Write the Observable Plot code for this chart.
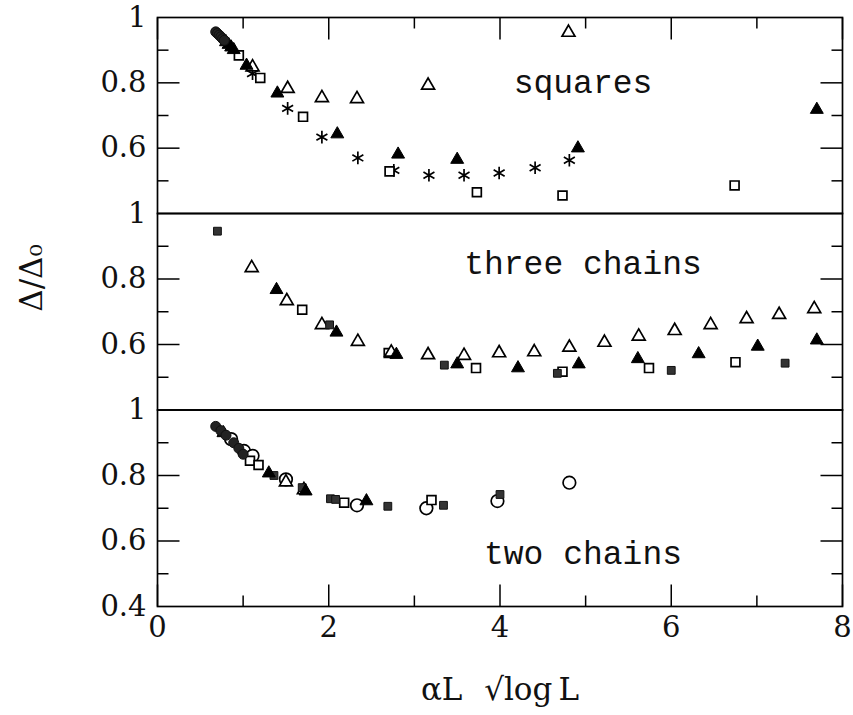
<!DOCTYPE html>
<html>
<head>
<meta charset="utf-8">
<script src="https://cdn.jsdelivr.net/npm/d3@7"></script>
<script src="https://cdn.jsdelivr.net/npm/@observablehq/plot@0.6"></script>
<style>
  body { margin: 0; background: #fff; }
  #chart { position: relative; width: 853px; height: 715px; background: #fff; }
  #chart svg { position: absolute; left: 0; top: 0; }
</style>
</head>
<body>
<div id="chart"></div>
<script>
// ---- squares ----
const sqFilledCircle = [[0.68,0.956],[0.70,0.951],[0.72,0.946],[0.74,0.941],[0.76,0.935],[0.78,0.930]];
const sqFilledTri = [[0.80,0.925],[0.83,0.917],[0.86,0.909],[0.89,0.901],[1.04,0.853],[1.40,0.768],[2.10,0.643],[2.81,0.581],[3.50,0.565],[4.91,0.600],[7.70,0.718]];
const sqOpenTri = [[1.11,0.848],[1.52,0.782],[1.92,0.754],[2.33,0.751],[3.16,0.792],[4.80,0.954]];
const sqOpenSq = [[0.95,0.884],[1.20,0.815],[1.70,0.696],[2.71,0.529],[3.73,0.465],[4.73,0.455],[6.74,0.486]];
const sqAsterisk = [[1.11,0.828],[1.52,0.722],[1.92,0.634],[2.34,0.570],[2.76,0.532],[3.17,0.517],[3.58,0.517],[3.99,0.524],[4.41,0.540],[4.81,0.563]];

// ---- three chains ----
const c3FilledSq = [[0.70,0.946],[2.01,0.660],[3.35,0.537],[4.67,0.512],[6.00,0.521],[7.33,0.543]];
const c3FilledTri = [[1.39,0.767],[2.09,0.637],[2.79,0.569],[3.50,0.540],[4.21,0.528],[4.92,0.540],[5.61,0.556],[6.32,0.571],[7.01,0.594],[7.70,0.613]];
const c3OpenTri = [[1.10,0.834],[1.51,0.733],[1.92,0.660],[2.34,0.609],[2.73,0.576],[3.16,0.568],[3.58,0.566],[3.99,0.574],[4.40,0.577],[4.81,0.591],[5.22,0.606],[5.62,0.625],[6.04,0.642],[6.46,0.660],[6.88,0.678],[7.26,0.691],[7.67,0.709]];
const c3OpenSq = [[1.69,0.706],[2.70,0.574],[3.72,0.528],[4.73,0.517],[5.74,0.528],[6.75,0.546]];

// ---- two chains ----
const c2FilledCircle = [[0.68,0.950],[0.74,0.937],[0.80,0.923],[0.89,0.900],[0.95,0.883],[1.00,0.865]];
const c2OpenCircle = [[0.86,0.911],[1.01,0.875],[1.11,0.860],[1.50,0.788],[2.33,0.709],[3.14,0.700],[3.97,0.722],[4.81,0.778]];
const c2FilledTri = [[0.77,0.930],[1.30,0.807],[1.73,0.752],[2.44,0.722]];
const c2OpenTri = [[1.50,0.780],[1.71,0.756]];
const c2FilledSq = [[1.36,0.800],[1.69,0.763],[2.02,0.729],[2.08,0.727],[2.69,0.706],[3.34,0.709],[4.00,0.742]];
const c2OpenSq = [[1.08,0.845],[1.18,0.832],[2.18,0.717],[3.20,0.725]];

// ---- axes ----
const xMajor = [0, 2, 4, 6, 8];
const xMinor = [1, 3, 5, 7];
const yMajor = [0.6, 0.8];
const yMinor = [0.5, 0.7, 0.9];
const yLabelsUpper = [1, 0.8, 0.6];
const yLabelsLower = [1, 0.8, 0.6, 0.4];
const panelNames = ["squares", "three chains", "two chains"];
const xTitle = "αL\u2002\u2009√log\u2009L";
const yTitle = "Δ/Δ₀";

const W = 853, H = 715, ML = 157, MR = 11;
const bands = [[17, 213], [213, 409.5], [409.5, 606]];
const xDomain = [0, 8], yDomain = [0.4, 1];
const tickFont = "DejaVu Serif";
const labelFont = "Liberation Mono";
const MAJOR = 22, MINOR = 11; // inward tick lengths in pixels

const px = d => d[0], py = d => d[1];
const sym = (data, symbol, r, fill, stroke = "black", sw = 1.7) =>
  Plot.dot(data, {x: px, y: py, symbol, r, fill, stroke, strokeWidth: sw});

const openTri = d => sym(d, "triangle", 4.8, "white");
const fillTri = d => sym(d, "triangle", 4.8, "black", "black", 1);
const openSq = d => sym(d, "square", 5, "white");
const fillSq = d => sym(d, "square", 4.4, "#333", "#111", 1);
const openCirc = d => sym(d, "circle", 6.3, "white");
const fillCirc = d => sym(d, "circle", 5, "#222", "#111", 1);
const aster = d => sym(d, "asterisk", 6, "none", "black", 1.7);

// short inward tick drawn as a custom dot symbol: a segment from the anchor point
const tickSymbol = (dx, dy) => ({draw(context) { context.moveTo(0, 0); context.lineTo(dx, dy); }});
const tickStyle = {fill: "none", stroke: "black", strokeWidth: 1.5};
const yTicksAt = (vals, len) => [
  Plot.dot(vals, {x: () => xDomain[0], y: d => d, symbol: tickSymbol(len, 0), ...tickStyle}),
  Plot.dot(vals, {x: () => xDomain[1], y: d => d, symbol: tickSymbol(-len, 0), ...tickStyle})
];
const xTicksTop = (vals, len) =>
  Plot.dot(vals, {x: d => d, y: () => yDomain[1], symbol: tickSymbol(0, len), ...tickStyle});
const xTicksBottom = (vals, len) =>
  Plot.dot(vals, {x: d => d, y: () => yDomain[0], symbol: tickSymbol(0, -len), ...tickStyle});

function panel(i, marks, opts) {
  const [top, bottom] = bands[i];
  const ticks = [...yTicksAt(yMajor, MAJOR), ...yTicksAt(yMinor, MINOR)];
  const texts = [
    Plot.text(i === 2 ? yLabelsLower : yLabelsUpper, {
      y: d => d, text: d => String(d), frameAnchor: "left", textAnchor: "end",
      dx: -11, fontSize: 29, fontFamily: tickFont, fill: "#111"
    }),
    Plot.text([panelNames[i]], {
      frameAnchor: opts.labelAnchor, dx: 83, dy: opts.labelDy,
      fontSize: 33, fontFamily: labelFont, fill: "#111"
    })
  ];
  if (opts.topTicks) {
    ticks.push(xTicksTop(xMajor, MAJOR), xTicksTop(xMinor, MINOR));
  }
  if (opts.bottomTicks) {
    ticks.push(xTicksBottom(xMajor, MAJOR), xTicksBottom(xMinor, MINOR));
    texts.push(
      Plot.text(xMajor, {
        x: d => d, text: d => String(d), frameAnchor: "bottom", lineAnchor: "top",
        dy: 10, fontSize: 29, fontFamily: tickFont, fill: "#111"
      }),
      Plot.text([xTitle], {
        frameAnchor: "bottom", lineAnchor: "middle", dy: 84,
        fontSize: 31, fontFamily: tickFont, fill: "#111"
      })
    );
  }
  if (opts.yTitle) {
    texts.push(Plot.text([yTitle], {
      frameAnchor: "left", dx: -125, rotate: -90, fontSize: 31,
      fontFamily: tickFont, fill: "#111"
    }));
  }
  return Plot.plot({
    width: W, height: H,
    marginLeft: ML, marginRight: MR, marginTop: top, marginBottom: H - bottom,
    x: {domain: xDomain, axis: null},
    y: {domain: yDomain, axis: null},
    style: {background: "transparent", overflow: "visible"},
    marks: [
      ...texts,
      ...marks,
      Plot.frame({stroke: "black", strokeWidth: 1.7}),
      ...ticks
    ]
  });
}

const chart = document.getElementById("chart");
chart.append(
  panel(0, [
    aster(sqAsterisk), openSq(sqOpenSq), openTri(sqOpenTri), fillTri(sqFilledTri), fillCirc(sqFilledCircle)
  ], {topTicks: true, labelAnchor: "top", labelDy: 52}),
  panel(1, [
    openSq(c3OpenSq), openTri(c3OpenTri), fillSq(c3FilledSq), fillTri(c3FilledTri)
  ], {labelAnchor: "top", labelDy: 37, yTitle: true}),
  panel(2, [
    openCirc(c2OpenCircle), openSq(c2OpenSq), openTri(c2OpenTri), fillSq(c2FilledSq), fillTri(c2FilledTri), fillCirc(c2FilledCircle)
  ], {bottomTicks: true, labelAnchor: "bottom", labelDy: -43})
);
</script>
</body>
</html>
